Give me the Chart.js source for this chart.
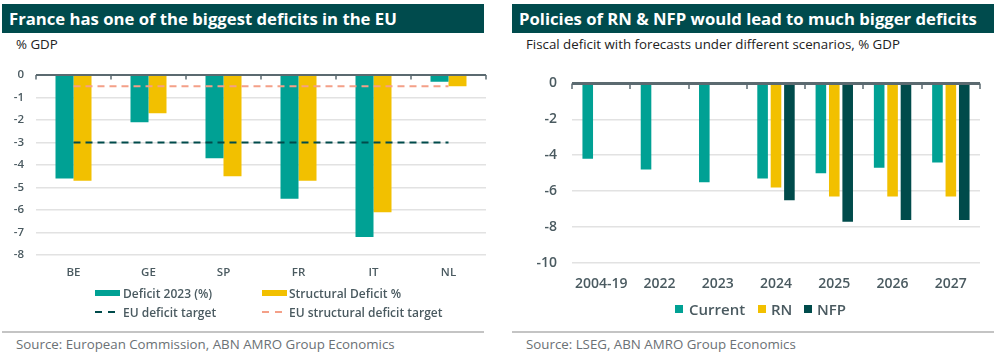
<!DOCTYPE html>
<html>
<head>
<meta charset="utf-8">
<script src="https://cdn.jsdelivr.net/npm/chart.js@4"></script>
<style>
  body { margin: 0; width: 995px; height: 353px; background: #fff; position: relative; overflow: hidden; font-family: "Open Sans", sans-serif; }
  .bar { position: absolute; top: 4px; height: 29px; background: #004b4d; color: #fff; font-weight: 700; font-size: 16.7px; line-height: 29px; padding-left: 7px; box-sizing: border-box; white-space: nowrap; }
  .sub { position: absolute; top: 35px; font-size: 13.3px; color: #222; white-space: nowrap; }
  .rule { position: absolute; top: 331px; height: 2px; background: #c4c4c4; }
  .src { position: absolute; top: 335px; font-size: 13.3px; color: #6b7175; white-space: nowrap; }
  .wrap { position: absolute; }
  .lg { position: absolute; font-weight: 600; color: #4a5a60; white-space: nowrap; }
  .lg span { position: absolute; top: 50%; transform: translateY(-50%); }
</style>
</head>
<body>
<div class="bar" style="left:2px;width:482px;">France has one of the biggest deficits in the EU</div>
<div class="bar" style="left:512px;width:482px;">Policies of RN &amp; NFP would lead to much bigger deficits</div>
<div class="sub" style="left:16px;">% GDP</div>
<div class="sub" style="left:526px;">Fiscal deficit with forecasts under different scenarios, % GDP</div>

<div class="wrap" style="left:0;top:55px;width:488px;height:230px;"><canvas id="left"></canvas></div>
<div class="wrap" style="left:500px;top:60px;width:490px;height:240px;"><canvas id="right"></canvas></div>
<div id="legendL"></div>
<div id="legendR"></div>

<div class="rule" style="left:2px;width:482px;"></div>
<div class="rule" style="left:512px;width:482px;"></div>
<div class="src" style="left:16px;">Source: European Commission, ABN AMRO Group Economics</div>
<div class="src" style="left:526px;">Source: LSEG, ABN AMRO Group Economics</div>

<script>
// left chart data
const countries = ["BE", "GE", "SP", "FR", "IT", "NL"];
const deficit2023 = [-4.6, -2.1, -3.7, -5.5, -7.2, -0.3];
const structuralDeficit = [-4.7, -1.7, -4.5, -4.7, -6.1, -0.5];
const euDeficitTarget = [-3, -3, -3, -3, -3, -3];
const euStructuralTarget = [-0.5, -0.5, -0.5, -0.5, -0.5, -0.5];

// right chart data
const years = ["2004-19", "2022", "2023", "2024", "2025", "2026", "2027"];
const current = [-4.2, -4.8, -5.5, -5.3, -5.0, -4.7, -4.4];
const rn = [null, null, null, -5.8, -6.3, -6.3, -6.3];
const nfp = [null, null, null, -6.5, -7.7, -7.6, -7.6];

const TEAL = "#00a194";
const YELLOW = "#f2c000";
const DARK = "#004b4b";
const SALMON = "#f4a088";
const AXIS = "#5b6a70";
const GRID = "#e2e2e2";
const TXT = "#4a5a60";

// zero line with little tick marks at category boundaries
const zeroLine = {
  id: "zeroLine",
  afterDatasetsDraw(chart, args, opts) {
    const { ctx, chartArea, scales } = chart;
    const y = scales.y.getPixelForValue(0);
    ctx.save();
    ctx.strokeStyle = AXIS;
    ctx.lineWidth = opts.width;
    ctx.beginPath();
    ctx.moveTo(chartArea.left, y);
    ctx.lineTo(chartArea.right, y);
    ctx.stroke();
    ctx.lineWidth = 1.5;
    const n = chart.data.labels.length;
    const step = (chartArea.right - chartArea.left) / n;
    for (let i = 0; i <= n; i++) {
      const x = Math.round(chartArea.left + i * step);
      if (x > chartArea.right) break;
      ctx.beginPath();
      ctx.moveTo(x, y);
      ctx.lineTo(x, y + opts.width + 2.5);
      ctx.stroke();
    }
    ctx.restore();
  }
};

function yScale(min, max, step, size, w, pad) {
  return {
    min: min, max: max,
    afterFit: s => { s.width = w; },
    border: { display: false },
    grid: { color: c => c.tick.value === 0 ? "rgba(0,0,0,0)" : GRID, lineWidth: 1.5, drawTicks: false },
    ticks: { stepSize: step, color: TXT, padding: pad, font: { family: "Open Sans", size: size, weight: 600 } }
  };
}

function xScale(size, h, pad) {
  return {
    afterFit: s => { s.height = h; },
    border: { display: false },
    grid: { display: false, drawTicks: false },
    ticks: { color: TXT, padding: pad, maxRotation: 0, autoSkip: false, font: { family: "Open Sans", size: size, weight: 600 } }
  };
}

const leftChart = new Chart(document.getElementById("left"), {
  type: "bar",
  data: {
    labels: countries,
    datasets: [
      { type: "line", label: "EU deficit target", data: euDeficitTarget, borderColor: DARK, borderWidth: 2, borderDash: [7, 5], pointRadius: 0, order: 0 },
      { type: "line", label: "EU structural deficit target", data: euStructuralTarget, borderColor: SALMON, borderWidth: 2, borderDash: [7, 5], pointRadius: 0, order: 0 },
      { label: "Deficit 2023 (%)", data: deficit2023, backgroundColor: TEAL, order: 1 },
      { label: "Structural Deficit %", data: structuralDeficit, backgroundColor: YELLOW, order: 1 }
    ]
  },
  options: {
    responsive: true, maintainAspectRatio: false, animation: false,
    categoryPercentage: 0.48, barPercentage: 1,
    layout: { padding: { top: 20, right: 2, left: 0, bottom: 0 } },
    scales: { x: xScale(11.5, 30, 11), y: yScale(-8, 0, 1, 11.5, 36, 12) },
    plugins: { legend: { display: false }, tooltip: { enabled: false }, zeroLine: { width: 2 } }
  },
  plugins: [zeroLine]
});

const rightChart = new Chart(document.getElementById("right"), {
  type: "bar",
  data: {
    labels: years,
    datasets: [
      { label: "Current", data: current, backgroundColor: TEAL },
      { label: "RN", data: rn, backgroundColor: YELLOW },
      { label: "NFP", data: nfp, backgroundColor: DARK }
    ]
  },
  options: {
    responsive: true, maintainAspectRatio: false, animation: false,
    categoryPercentage: 0.69, barPercentage: 0.79,
    layout: { padding: { top: 22, right: 10, left: 0, bottom: 0 } },
    scales: { x: xScale(14, 37, 13), y: yScale(-10, 0, 2, 14, 72, 15) },
    plugins: { legend: { display: false }, tooltip: { enabled: false }, zeroLine: { width: 3 } }
  },
  plugins: [zeroLine]
});

// html legends built from the datasets
function addItem(parent, x, y, marker, text, tx, size) {
  const d = document.createElement("div");
  d.className = "lg";
  d.style.left = x + "px"; d.style.top = (y - 10) + "px"; d.style.height = "20px"; d.style.fontSize = size + "px";
  d.appendChild(marker);
  const t = document.createElement("span");
  t.textContent = text; t.style.left = (tx - x) + "px";
  d.appendChild(t);
  parent.appendChild(d);
}
function box(w, h, color) {
  const s = document.createElement("span");
  s.style.cssText = `left:0;width:${w}px;height:${h}px;background:${color};`;
  return s;
}
function dash(color) {
  const s = document.createElement("span");
  s.style.cssText = `left:0;width:20px;height:2px;background:linear-gradient(90deg, ${color} 0 7px, transparent 7px 13px, ${color} 13px 20px);`;
  return s;
}

const lgL = document.getElementById("legendL");
const dsL = leftChart.data.datasets;
addItem(lgL, 95, 293, box(25, 6, dsL[2].backgroundColor), dsL[2].label, 123, 12);
addItem(lgL, 262, 293, box(25, 6, dsL[3].backgroundColor), dsL[3].label, 289, 12);
addItem(lgL, 95, 312, dash(dsL[0].borderColor), dsL[0].label, 123, 12);
addItem(lgL, 262, 312, dash(dsL[1].borderColor), dsL[1].label, 289, 12);

const lgR = document.getElementById("legendR");
const dsR = rightChart.data.datasets;
const rx = [[675, 689], [758, 771], [804, 817]];
dsR.forEach((d, i) => addItem(lgR, rx[i][0], 309, box(8, 8, d.backgroundColor), d.label, rx[i][1], 15));
</script>
</body>
</html>
